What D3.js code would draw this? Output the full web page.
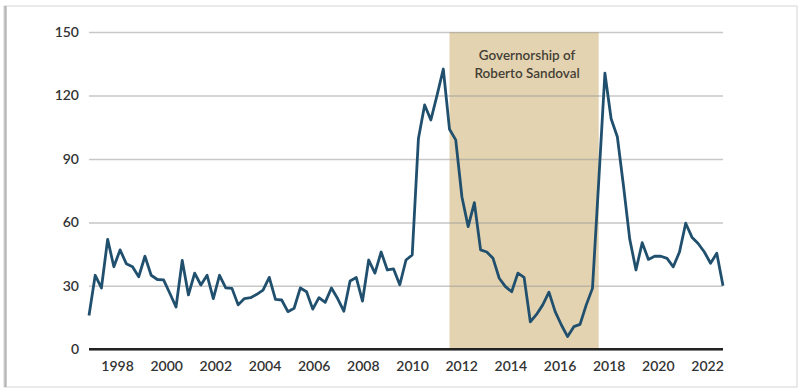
<!DOCTYPE html>
<html>
<head>
<meta charset="utf-8">
<script src="https://cdn.jsdelivr.net/npm/d3@7"></script>
<style>
  html, body { margin: 0; padding: 0; background: #fff; }
  svg { display: block; }
  text { font-family: Lato, "Open Sans", sans-serif; }
</style>
</head>
<body>
<svg id="chart" width="799" height="389"></svg>
<script>
// Quarterly series, 1997 Q1 through 2022 Q3
const startYear = 1997;
const values = [
  16, 35, 29, 52, 39, 47, 40.5, 39, 34.3, 44,
  35, 33, 32.8, 26.5, 20, 42, 25.7, 36, 30.4, 35,
  24, 35, 29, 28.8, 21, 24, 24.4, 26, 28, 34,
  23.6, 23.3, 17.8, 19.4, 29, 27.2, 19, 24.4, 22.2, 29,
  24, 18, 32.3, 33.9, 22.8, 42.2, 36, 46, 37.5, 38,
  30.5, 42.2, 44.6, 99.7, 115.5, 108.4, 120.2, 132.5, 104, 99,
  72, 58, 69.3, 47, 46, 43, 33.6, 29.6, 27.2, 36,
  34, 13, 16.5, 21, 27, 17.8, 11.5, 6, 10.7, 11.8,
  21, 28.8, 79, 130.5, 109, 100.5, 77, 52, 37.5, 50.4,
  42.5, 44, 44, 43, 39, 46, 59.6, 53, 50, 46,
  40.7, 45.4, 30
];
const yTicks = [0, 30, 60, 90, 120, 150];
const xTickYears = [1998, 2000, 2002, 2004, 2006, 2008, 2010, 2012, 2014, 2016, 2018, 2020, 2022];
const termStart = 2011.5;
const termEnd = 2017.5;
const termLabel = ["Governorship of", "Roberto Sandoval"];

const svg = d3.select("#chart");

// card frame with a soft left shadow
svg.append("rect").attr("x", 4).attr("y", 6).attr("width", 793).attr("height", 381)
  .attr("fill", "#fff").attr("stroke", "#d6d6d6").attr("stroke-width", 1);
svg.append("line").attr("x1", 5.5).attr("x2", 5.5).attr("y1", 6).attr("y2", 387)
  .attr("stroke", "#b8b8b8").attr("stroke-width", 2.5);

const points = values.map((v, i) => ({ t: startYear + i / 4, v }));

const x = d3.scaleLinear().domain([startYear, startYear + (values.length - 1) / 4]).range([89, 723]);
const xLabel = d3.scaleLinear().domain([1998, 2022]).range([117, 707]);
const y = d3.scaleLinear().domain([0, 150]).range([349.3, 32]);

// shaded term band
svg.append("rect")
  .attr("x", x(termStart)).attr("width", x(termEnd) - x(termStart))
  .attr("y", y(150)).attr("height", y(0) - y(150))
  .attr("fill", "#e3d3b0");

// horizontal grid
const yAxis = d3.axisLeft(y).tickValues(yTicks).tickSize(-(723 - 89)).tickPadding(10);
const gy = svg.append("g").attr("transform", "translate(89,0)").call(yAxis);
gy.select(".domain").remove();
gy.selectAll(".tick line").attr("stroke", "#9a9a9a").attr("stroke-opacity", 0.55).attr("stroke-width", 1.5);
gy.selectAll(".tick text").attr("fill", "#333").attr("font-size", 14).attr("font-weight", 600);

// band label
const lbl = svg.append("text").attr("text-anchor", "middle").attr("fill", "#453f37")
  .attr("font-size", 13.5).attr("font-weight", 600);
termLabel.forEach((s, k) => {
  lbl.append("tspan").attr("x", (x(termStart) + x(termEnd)) / 2 + 3).attr("y", 60 + k * 18).text(s);
});

// zero baseline
svg.append("line").attr("x1", 89).attr("x2", 723).attr("y1", y(0)).attr("y2", y(0))
  .attr("stroke", "#222").attr("stroke-width", 2.5);

// x axis labels
const xAxis = d3.axisBottom(xLabel).tickValues(xTickYears).tickFormat(d3.format("d")).tickSize(0).tickPadding(12);
const gx = svg.append("g").attr("transform", `translate(0,${y(0)})`).call(xAxis);
gx.select(".domain").remove();
gx.selectAll(".tick text").attr("fill", "#333").attr("font-size", 14).attr("font-weight", 600);

// series line
const line = d3.line().x(d => x(d.t)).y(d => y(d.v)).curve(d3.curveLinear);
svg.append("path").datum(points)
  .attr("d", line)
  .attr("fill", "none")
  .attr("stroke", "#21506f")
  .attr("stroke-width", 2.8)
  .attr("stroke-linejoin", "round");
</script>
</body>
</html>
